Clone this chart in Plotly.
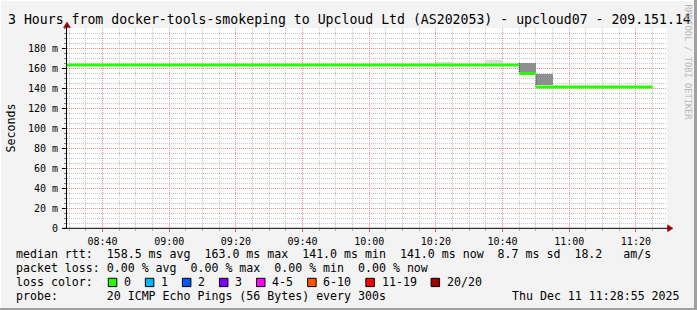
import plotly.graph_objects as go

# ---------------- data ----------------
DAY = "2025-12-11 "
# median RTT (ms) per step: segment start, segment end, value
median_start = ["08:25", "10:45", "10:50"]
median_end = ["10:45", "10:50", "11:25"]
median_ms = [163.0, 154.5, 141.0]

# smoke bands: interval start, low ms, high ms
light_smoke_start = ["10:20", "10:35"]
light_smoke_low = [162.0, 162.0]
light_smoke_high = [166.5, 168.0]

dark_smoke_start = ["10:45", "10:50"]
dark_smoke_low = [155.0, 143.3]
dark_smoke_high = [165.0, 154.3]

y_tick_vals = [0, 20, 40, 60, 80, 100, 120, 140, 160, 180]
y_tick_text = ["0", "20 m", "40 m", "60 m", "80 m", "100 m", "120 m", "140 m", "160 m", "180 m"]

loss_labels = ["0", "1", "2", "3", "4-5", "6-10", "11-19", "20/20"]
loss_colors = ["#26ff00", "#00b8ff", "#0059ff", "#7e00ff", "#ff00ff", "#ff5500", "#ff0000", "#a10000"]

title_text = "3 Hours from docker-tools-smokeping to Upcloud Ltd (AS202053) - upcloud07 - 209.151.14"
legend_rtt = "median rtt:  158.5 ms avg  163.0 ms max  141.0 ms min  141.0 ms now  8.7 ms sd  18.2   am/s"
legend_loss = "packet loss: 0.00 % avg  0.00 % max  0.00 % min  0.00 % now"
legend_color_head = "loss color:"
legend_probe = "probe:       20 ICMP Echo Pings (56 Bytes) every 300s"
stamp = "Thu Dec 11 11:28:55 2025"
watermark = "RRDTOOL / TOBI OETIKER"

# ---------------- layout geometry ----------------
W, H = 697, 310
L, R, T, B = 67, 30, 28, 82
PW, PH = W - L - R, H - T - B


def px(x):
    return (x - L) / PW


def py(y):
    return (T + PH - y) / PH


MONO = "DejaVu Sans Mono"
LEG_SIZE = 11.6
nb = lambda s: s.replace(" ", "\u00a0")

fig = go.Figure()

# smoke
fig.add_trace(go.Bar(
    x=[DAY + t for t in light_smoke_start],
    y=[h - l for h, l in zip(light_smoke_high, light_smoke_low)],
    base=light_smoke_low, offset=0, width=300000,
    marker=dict(color="#dcdcdc", line=dict(width=0)), hoverinfo="skip"))
fig.add_trace(go.Bar(
    x=[DAY + t for t in dark_smoke_start],
    y=[h - l for h, l in zip(dark_smoke_high, dark_smoke_low)],
    base=dark_smoke_low, offset=0, width=300000,
    marker=dict(color="#8f8f8f", line=dict(width=0)), hoverinfo="skip"))

# dark left edges of smoke boxes, down to the median of that interval
med_lookup = dict(zip(median_start, median_ms))
ex, ey = [], []
for t, hi in zip(dark_smoke_start, dark_smoke_high):
    ex += [DAY + t, DAY + t, None]
    ey += [hi, med_lookup[t], None]
fig.add_trace(go.Scatter(x=ex, y=ey, mode="lines",
                         line=dict(color="#303030", width=1, dash="1px,1px"),
                         hoverinfo="skip"))

# median line: horizontal segments only
mx, my = [], []
for s, e, v in zip(median_start, median_end, median_ms):
    mx += [DAY + s, DAY + e, None]
    my += [v, v, None]
fig.add_trace(go.Scatter(x=mx, y=my, mode="lines",
                         line=dict(color="#26ff00", width=3), hoverinfo="skip"))

annotations = []
shapes = []
PAD = 2  # annotation inner padding

annotations.append(dict(xref="paper", yref="paper", x=px(8 - PAD), y=py(19), xanchor="left",
                        yanchor="middle", text=nb(title_text), showarrow=False,
                        font=dict(family=MONO, size=13.2, color="black")))
annotations.append(dict(xref="paper", yref="paper", x=px(10.5), y=py(128), xanchor="center",
                        yanchor="middle", text="Seconds", textangle=-90, showarrow=False,
                        font=dict(family=MONO, size=LEG_SIZE, color="black")))
annotations.append(dict(xref="paper", yref="paper", x=px(687.5), y=py(62), xanchor="center",
                        yanchor="middle", text=nb(watermark), textangle=90, showarrow=False,
                        font=dict(family=MONO, size=8.7, color="#b8b8b8")))

LX = 16 - PAD
for txt, yy in [(legend_rtt, 254.3), (legend_loss, 268.3), (legend_color_head, 282.3), (legend_probe, 296)]:
    annotations.append(dict(xref="paper", yref="paper", x=px(LX), y=py(yy), xanchor="left",
                            yanchor="middle", text=nb(txt), showarrow=False,
                            font=dict(family=MONO, size=LEG_SIZE, color="black")))
annotations.append(dict(xref="paper", yref="paper", x=px(680 + PAD), y=py(296), xanchor="right",
                        yanchor="middle", text=nb(stamp), showarrow=False,
                        font=dict(family=MONO, size=LEG_SIZE, color="black")))

# loss colour boxes
bx = 108.3
for lab, col in zip(loss_labels, loss_colors):
    shapes.append(dict(type="rect", xref="paper", yref="paper",
                       x0=px(bx), x1=px(bx + 8.5), y0=py(278.3), y1=py(286.6),
                       fillcolor=col, line=dict(color="black", width=1), layer="above"))
    annotations.append(dict(xref="paper", yref="paper", x=px(bx + 15.7 - PAD), y=py(282.3),
                            xanchor="left", yanchor="middle", text=lab, showarrow=False,
                            font=dict(family=MONO, size=LEG_SIZE, color="black")))
    bx += 30 + 7.05 * len(lab)

# axis arrows
ARROW = "#a00000"
shapes.append(dict(type="path", xref="paper", yref="paper",
                   path=f"M {px(67)} {py(22)} L {px(63.5)} {py(27.5)} L {px(70.5)} {py(27.5)} Z",
                   fillcolor=ARROW, line=dict(color=ARROW, width=0.5), layer="above"))
shapes.append(dict(type="line", xref="paper", yref="paper", x0=px(66.5), x1=px(66.5),
                   y0=py(228.5), y1=py(26), line=dict(color="black", width=1), layer="above"))
shapes.append(dict(type="path", xref="paper", yref="paper",
                   path=f"M {px(673)} {py(228.3)} L {px(667.5)} {py(224.8)} L {px(667.5)} {py(231.8)} Z",
                   fillcolor=ARROW, line=dict(color=ARROW, width=0.5), layer="above"))
shapes.append(dict(type="line", xref="paper", yref="paper", x0=px(62.5), x1=px(668),
                   y0=py(228.3), y1=py(228.3), line=dict(color="black", width=1), layer="above"))

# frame (3D border)
shapes.append(dict(type="rect", xref="paper", yref="paper", x0=px(694), x1=px(697.5),
                   y0=py(310.5), y1=py(-0.5), fillcolor="#a0a0a0", line=dict(width=0)))
shapes.append(dict(type="rect", xref="paper", yref="paper", x0=px(-0.5), x1=px(697.5),
                   y0=py(310.5), y1=py(308), fillcolor="#a0a0a0", line=dict(width=0)))
shapes.append(dict(type="rect", xref="paper", yref="paper", x0=px(-0.5), x1=px(694),
                   y0=py(1), y1=py(-0.5), fillcolor="#ffffff", line=dict(width=0)))
shapes.append(dict(type="rect", xref="paper", yref="paper", x0=px(-0.5), x1=px(1),
                   y0=py(308), y1=py(-0.5), fillcolor="#ffffff", line=dict(width=0)))

MAJOR_GRID = "#ec8c8c"
MINOR_GRID = "#c4c4c4"
DOTS = "1px,1px"

fig.update_layout(
    width=W, height=H, margin=dict(l=L, r=R, t=T, b=B, pad=0),
    paper_bgcolor="#f3f3f3", plot_bgcolor="#ffffff",
    showlegend=False, barmode="overlay", bargap=0,
    annotations=annotations, shapes=shapes,
    font=dict(family=MONO, color="black"),
    xaxis=dict(
        type="date", range=[DAY + "08:29:20", DAY + "11:29:20"],
        tick0=DAY + "08:40", dtick=20 * 60 * 1000, tickformat="%H:%M",
        showgrid=True, gridcolor=MAJOR_GRID, griddash=DOTS, gridwidth=1,
        ticks="outside", ticklen=3, tickcolor="#e06060", tickwidth=1,
        tickfont=dict(family=MONO, size=10, color="black"),
        showline=False, zeroline=False, fixedrange=True, ticklabelstandoff=1,
        minor=dict(dtick=5 * 60 * 1000, tick0=DAY + "08:40", showgrid=True,
                   gridcolor=MINOR_GRID, griddash=DOTS, gridwidth=1,
                   ticks="outside", ticklen=2, tickcolor="#b0b0b0"),
    ),
    yaxis=dict(
        range=[0, 200], tickmode="array", tickvals=y_tick_vals, ticktext=y_tick_text,
        showgrid=True, gridcolor=MAJOR_GRID, griddash=DOTS, gridwidth=1,
        ticks="outside", ticklen=4, tickcolor="black", tickwidth=1,
        tickfont=dict(family=MONO, size=10, color="black"),
        showline=False, zeroline=False, fixedrange=True, ticklabelstandoff=2,
        minor=dict(tickmode="linear", dtick=5, tick0=0, showgrid=True,
                   gridcolor=MINOR_GRID, griddash=DOTS, gridwidth=1,
                   ticks="outside", ticklen=2, tickcolor="#808080"),
    ),
)

fig.write_html("out.html", config={"displayModeBar": False, "staticPlot": True})
